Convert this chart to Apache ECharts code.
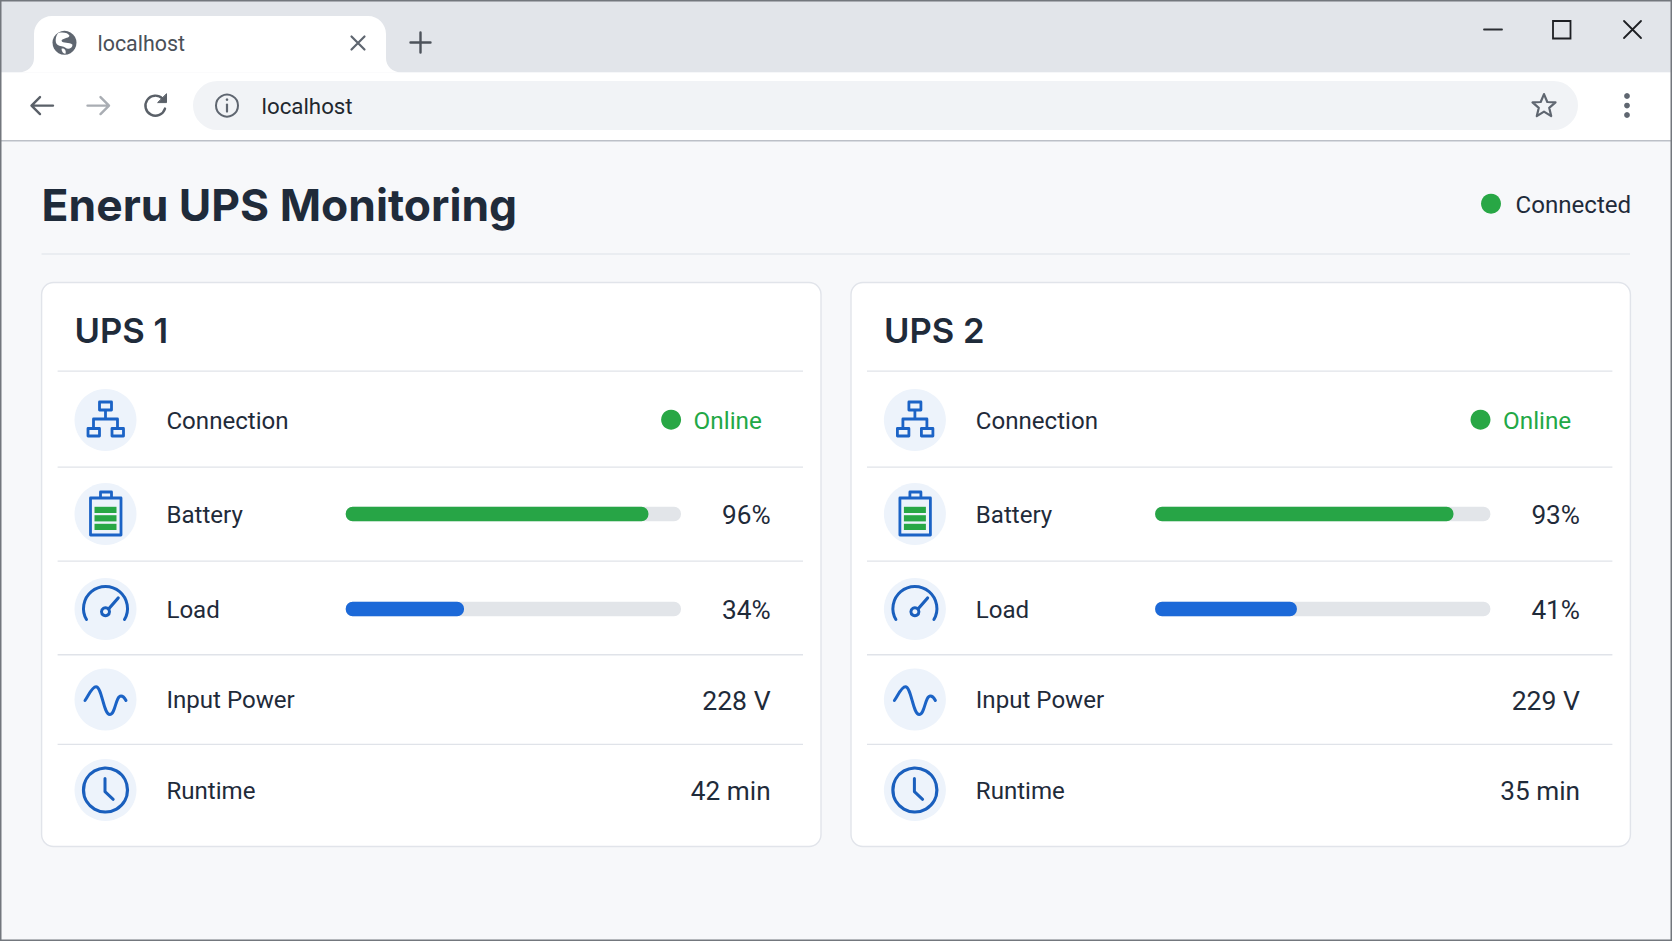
<!DOCTYPE html>
<html><head><meta charset="utf-8"><title>Eneru UPS Monitoring</title>
<style>html,body{margin:0;padding:0;background:#f7f8fa}#c{width:1672px;height:941px}</style>
<script src="https://cdn.jsdelivr.net/npm/echarts@6/dist/echarts.min.js"></script>
</head><body><div id="c"></div>
<script>
const pageTitle = 'Eneru UPS Monitoring';
const tabLabel = 'localhost';
const statusLabel = 'Connected';
const upsNames = ['UPS 1', 'UPS 2'];
const rowLabels = ['Connection', 'Battery', 'Load', 'Input Power', 'Runtime'];
const connectionStates = ['Online', 'Online'];
const batteryPercent = [96, 93];
const batteryBarFill = [90.3, 89];
const loadPercent = [34, 41];
const loadBarFill = [35.3, 42.3];
const inputVolts = [228, 229];
const runtimeMinutes = [42, 35];

const INK = '#1f2b3a', BLUE = '#1b63c6', GREEN = '#28a745', RULE = '#e0e3e9', PAGE = '#f7f8fa';
const UI = 'Roboto, sans-serif', BODY = 'Inter, sans-serif';
const els = [];
const shapeNames = new Map();
const shapeFor = d => {
  if (!shapeNames.has(d)) {
    const name = 'iconPath' + shapeNames.size;
    echarts.graphic.registerShape(name, echarts.graphic.extendPath(d, {}));
    shapeNames.set(d, name);
  }
  return shapeNames.get(d);
};
const T = (x, y, text, size, fill, o) => els.push({type:'text', x, y, silent:true,
  style:Object.assign({text, fontSize:size, fontFamily:UI, fontWeight:400, fill, textVerticalAlign:'middle', textAlign:'left'}, o||{})});
const R = (x, y, w, h, r, fill, stroke, lw) => els.push({type:'rect', silent:true, shape:{x, y, width:w, height:h, r}, style:{fill:fill||'none', stroke:stroke||'none', lineWidth:lw||0}});
const C = (cx, cy, r, fill, stroke, lw) => els.push({type:'circle', silent:true, shape:{cx, cy, r}, style:{fill:fill||'none', stroke:stroke||'none', lineWidth:lw||0}});
const P = (x, y, d, stroke, lw, fill) => els.push({type:shapeFor(d), silent:true, x, y, style:{fill:fill||'none', stroke:stroke||'none', lineWidth:lw||0, lineCap:'round', lineJoin:'round'}});

/* browser chrome */
R(0, 0, 1672, 941, 0, PAGE);
R(0, 0, 1672, 72.5, 0, '#e2e5ea');
R(0, 72.5, 1672, 68, 0, '#ffffff');
R(0, 140, 1672, 1.6, 0, '#bcc0c7');
P(0, 0, 'M18,72.5 C28,72.5 34,66 34,58 L34,34 C34,24 42,16 52,16 L368,16 C378,16 386,24 386,34 L386,58 C386,66 392,72.5 402,72.5 Z', 'none', 0, '#ffffff');
C(64.5, 42.8, 12, '#5f6670');
P(64.5, 42.8, 'M-6,-10 C-1,-11 4,-10 5,-7 C4,-4 -2,-5 -3,-2 C-2,1 5,-1 8,2 C8,6 3,7 1,5 C-1,3 -5,4 -7,2 C-10,0 -9,-7 -6,-10 Z M-3,6 C0,5 2,8 1,11 C-1,11 -3,9 -3,6 Z', 'none', 0, '#ffffff');
T(97.5, 43.5, tabLabel, 21.4, '#4a5058');
P(358, 43, 'M-6.5,-6.5 L6.5,6.5 M6.5,-6.5 L-6.5,6.5', '#5f6670', 2.2);
P(420.5, 42.5, 'M-10,0 L10,0 M0,-10 L0,10', '#4d535b', 2.4);
P(42, 105.6, 'M11,0 L-10,0 M-2,-8.5 L-10.5,0 L-2,8.5', '#5a6068', 2.4);
P(98.5, 105.6, 'M-11,0 L10,0 M2,-8.5 L10.5,0 L2,8.5', '#a9adb3', 2.4);
P(155.5, 105.6, 'M9.5,3 A10,10 0 1 1 7,-7', '#5a6068', 2.4);
P(155.5, 105.6, 'M2.5,-3 L11,-3 L11,-11.5 Z', '#5a6068', 1, '#5a6068');
R(193, 81, 1385, 49, 24.5, '#f1f3f6');
C(227, 105.6, 11, 'none', '#5f6670', 2);
P(227, 105.6, 'M0,-1 L0,6', '#5f6670', 2.2);
C(227, 99.6, 1.3, '#5f6670');
T(261.5, 106, tabLabel, 22.3, '#22272e');
P(1544, 105.6, 'M0,-11.5 L3.3,-3.6 L11.5,-3.2 L5.2,2.2 L7.2,10.5 L0,6 L-7.2,10.5 L-5.2,2.2 L-11.5,-3.2 L-3.3,-3.6 Z', '#5f6670', 2.2);
[96, 105.6, 115].forEach(y => C(1627, y, 2.9, '#5f6670'));
P(0, 0, 'M1484,29.5 L1502,29.5', '#2b2e33', 1.8);
R(1553, 21, 17.5, 17.5, 0, 'none', '#1d1f23', 1.8);
P(0, 0, 'M1624,21 L1641,38 M1641,21 L1624,38', '#1d1f23', 1.8);
R(0.75, 0.75, 1670.5, 939.5, 0, 'none', '#73777d', 1.5);

/* page header */
T(41.6, 205, pageTitle, 44.4, INK, {fontFamily:BODY, fontWeight:700});
C(1491, 203.7, 10, GREEN);
T(1515.5, 204.5, statusLabel, 24.1, INK);
R(41.6, 253.4, 1588.4, 1.2, 0, '#dde1e7');

/* icon drawings, relative to each icon circle's centre */
const ICONS = [
  (x, y) => { P(x, y, 'M-6,-18 H6 V-10 H-6 Z M0,-10 V-1 M-12,8.5 V-1 H12 V8.5 M-17.5,8.5 H-6 V16 H-17.5 Z M6.5,8.5 H18 V16 H6.5 Z', BLUE, 2.8); },
  (x, y) => { P(x, y, 'M-15,-16 H15.5 V21 H-15 Z M-5,-16 V-22 H6 V-16', BLUE, 2.8);
    [-7.2, 1.2, 9.8].forEach(d => R(x - 11, y + d, 22, 6.2, 0, GREEN)); },
  (x, y) => { P(x, y, 'M-19,10.5 A22,22 0 1 1 19,10.5', '#1a5fbd', 3);
    C(x, y + 2.7, 4, 'none', '#1a5fbd', 3); P(x, y, 'M3.5,-0.5 L12.7,-11', '#1a5fbd', 3.2); },
  (x, y) => { P(x, y, 'M-20.5,1 C-17,-4 -13.5,-12.7 -9.5,-12.7 C-3.5,-12.7 -2,15 4.3,15 C10,15 10,-3.5 15.5,-3.5 C18,-3.5 19.5,-1 20.5,1', BLUE, 3); },
  (x, y) => { C(x, y, 22, 'none', '#1a5fbd', 3.2); P(x, y, 'M-0.5,-11.5 V1.7 L7.7,9.3', '#1a5fbd', 3); }
];
const rowY = [420, 514, 609, 699.5, 790];
const ruleY = [371, 467, 561, 654.7, 744.3];
const grids = [], xAxes = [], yAxes = [], series = [];
const addBar = (cardX, y, value, color) => {
  const i = grids.length;
  grids.push({left:cardX + 304.1, width:335.3, top:y - 7.25, height:14.5, containLabel:false});
  xAxes.push({type:'value', gridIndex:i, min:0, max:100, show:false});
  yAxes.push({type:'category', gridIndex:i, data:[''], show:false});
  series.push({type:'bar', xAxisIndex:i, yAxisIndex:i, data:[value], barWidth:14.5, silent:true, animation:false,
    showBackground:true, backgroundStyle:{color:'#e2e5e9', borderRadius:7},
    itemStyle:{color, borderRadius:7}});
};

upsNames.forEach((name, u) => {
  const X = 41.6 + u * 809.4;
  R(X, 282.5, 779.4, 564, 12, '#ffffff', '#e1e4ea', 1.4);
  T(X + 33, 330, name, 34.6, INK, {fontFamily:BODY, fontWeight:600});
  ruleY.forEach(y => R(X + 16, y - 0.6, 745.4, 1.3, 0, RULE));
  const right = X + 729;
  rowLabels.forEach((lab, r) => {
    C(X + 63.9, rowY[r], 31, '#edf3fb');
    ICONS[r](X + 63.9, rowY[r]);
    T(X + 124.8, rowY[r] + 0.5, lab, 24.1, INK);
  });
  C(X + 629.5, 419.7, 10, GREEN);
  T(X + 652, 420.5, connectionStates[u], 24.3, '#22a846');
  T(right, rowY[1] + 1, batteryPercent[u] + '%', 26.2, INK, {textAlign:'right'});
  T(right, rowY[2] + 1, loadPercent[u] + '%', 26.2, INK, {textAlign:'right'});
  T(right, rowY[3] + 0.5, inputVolts[u] + ' V', 26.6, INK, {textAlign:'right'});
  T(right, rowY[4] + 0.5, runtimeMinutes[u] + ' min', 26.2, INK, {textAlign:'right'});
  addBar(X, rowY[1], batteryBarFill[u], '#27a546');
  addBar(X, rowY[2], loadBarFill[u], '#1c69d8');
});

const chart = echarts.init(document.getElementById('c'), null, {renderer:'svg', width:1672, height:941});
chart.setOption({animation:false, backgroundColor:PAGE, tooltip:{show:false},
  graphic:{elements:els}, grid:grids, xAxis:xAxes, yAxis:yAxes, series});
</script></body></html>
